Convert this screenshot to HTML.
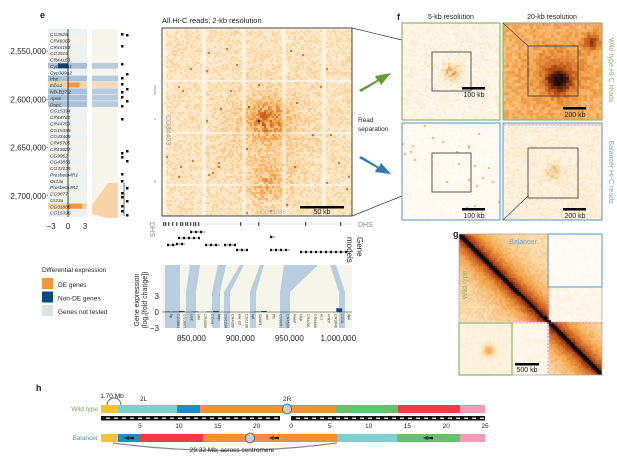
<!DOCTYPE html>
<html><head><meta charset="utf-8">
<style>
body{margin:0;background:#fff;}
#root{position:relative;width:617px;height:464px;overflow:hidden;font-family:"Liberation Sans",sans-serif;color:#222;}
canvas{position:absolute;}
</style></head>
<body>
<div id="root">
<svg id="svg" width="617" height="464" style="position:absolute;left:0;top:0"></svg>
<canvas id="hm-main" width="190" height="188" style="left:162px;top:28px"></canvas>
<canvas id="hm-f1" width="98" height="97" style="left:402px;top:23px"></canvas>
<canvas id="hm-f2" width="99" height="97" style="left:503px;top:23px"></canvas>
<canvas id="hm-f3" width="98" height="97" style="left:402px;top:123px"></canvas>
<canvas id="hm-f4" width="99" height="97" style="left:503px;top:123px"></canvas>
<canvas id="hm-g" width="143" height="141" style="left:459px;top:234px"></canvas>
<svg id="ov" width="617" height="464" style="position:absolute;left:0;top:0"></svg>
</div>
<script>
// ---- data ----
const geneNames=["CG3526","CR46069","CR44152","CG3515","CR44153","Cyp309a1","Cyp309a2","Irbp","Elba2","ND-B17.2","Aps6","Dsp1","CG15394","CR44760","CR44759","CG15395","CG43405","CR45705","CR43827","CG9962","CG43851","CG33125","Prosbeta4R1","Or23a","Prosbeta4R2","CG9877","Gr23a","CG31886","CG15398"];
const geneFC=[0,0,0,0,0,-1.8,0,0.2,2.0,0.1,0.1,0.1,0,0,0,0,0,0,0,0,0,0,0,0,0,0,0,2.5,0];
const geneClass=["n","n","n","n","n","b","n","l","o","l","l","l","n","n","n","n","n","n","n","n","n","n","n","n","n","n","n","o","n"];
const yTicks=[2550000,2600000,2650000,2700000];
const xTicksLeft=[-3,0,3];
const botGenes=["Ilp","CG3884","CG3885","Ucit","otkl","CR4659","CG43","Irbp","CG1234","CR4309","ear-22","CG1138","spl","SMAR","otkl","Ptr","CG9261","CR4563","Kaa2","Ucp","CR4301","CR4660","ec1","PrRP","CR3846","CG31","Ilp5"];
const botFC=[0.1,0.1,0.2,0,0.1,0,0.1,0.2,0,0,0,0,0,0.1,0.2,0,0,0,0,0,0,0,0,0,0,0.7,0];
const xTicksBot=[850000,900000,950000,1000000];
const rulerL=[5,10,15,20];
const rulerR=[0,5,10,15,20,25];

const NS="http://www.w3.org/2000/svg";
const svg=document.getElementById('svg');
const ov=document.getElementById('ov');
function el(tag,attrs,parent,name,inter){const e=document.createElementNS(NS,tag);for(const k in attrs)e.setAttribute(k,attrs[k]);


(parent||svg).appendChild(e);return e;}
function txt(x,y,s,size,attrs,parent,name){const e=el('text',Object.assign({x:x,y:y,'font-size':size,'font-family':'Liberation Sans, sans-serif',fill:'#222'},attrs||{}),parent,name||'label');e.textContent=s;return e;}

txt(40,18,"e",9,{'font-weight':'bold'},svg,'panel-e-label');
txt(162,23,"All Hi-C reads; 2-kb resolution",7.5,{},svg,'main-heatmap-title');
txt(397,20,"f",9,{'font-weight':'bold'},svg,'panel-f-label');
txt(451,19,"5-kb resolution",7,{'text-anchor':'middle'},svg,'f-5kb-title');
txt(552,19,"20-kb resolution",7,{'text-anchor':'middle'},svg,'f-20kb-title');
txt(453,237,"g",9,{'font-weight':'bold'},svg,'panel-g-label');
txt(36,391,"h",9,{'font-weight':'bold'},svg,'panel-h-label');

// ---- left gene panel ----
const rowTop=31,rowH=(216-31)/geneNames.length;
const gx=v=>68+v*(17/3);
const gy=i=>rowTop+i*rowH;
const clsCol={n:'#eef1ea',b:'#0d4a80',l:'#a9c1d8',o:'#f3963a'};
const clsBg={n:'#f3f1e6',b:'#a9c1d8',l:'#a9c1d8',o:'#f8d3a8'};
el('rect',{x:48,y:29,width:39,height:188,fill:'#eef2ee'},svg,'gene-panel-bg');
el('rect',{x:92,y:29,width:26,height:188,fill:'#f6f5ec'},svg,'fan-bg');
geneNames.forEach((g,i)=>{
  el('rect',{x:48,y:gy(i),width:39,height:rowH-0.6,fill:i%2?'#f3f2e8':'#ecf1f4'},svg,'gene-row');
  if(geneClass[i]!=='n'){el('rect',{x:48,y:gy(i),width:39,height:rowH-0.6,fill:clsBg[geneClass[i]]},svg,'gene-row-highlight');
    el('rect',{x:92,y:gy(i),width:26,height:rowH-0.6,fill:clsBg[geneClass[i]],opacity:0.8},svg,'gene-fan');}
  const v=geneFC[i];
  if(Math.abs(v)>0.05){el('rect',{x:Math.min(gx(0),gx(v)),y:gy(i)+0.5,width:Math.abs(gx(v)-gx(0)),height:rowH-1.5,fill:clsCol[geneClass[i]]},svg,'gene-fc-bar');}
  txt(50,gy(i)+rowH-1.3,g,4.8,{'font-style':'italic',fill:'#333'},svg,'gene-name');
});
el('polygon',{points:"92,205 108,183 118,183 118,218 108,218 92,214",fill:'#f8d3a8'},svg,'gene-fan-wedge');
el('line',{x1:68,y1:29,x2:68,y2:217,stroke:'#111','stroke-width':0.8},svg,'zero-line');
yTicks.forEach(t=>{const y=29+(t-2527000)/(2722000-2527000)*188;
  txt(46,y+3,t.toLocaleString('en-US'),8,{'text-anchor':'end'},svg,'y-tick-label');
  el('line',{x1:46.5,y1:y,x2:48,y2:y,stroke:'#333','stroke-width':0.6},svg,'y-tick');});
xTicksLeft.forEach(t=>txt(gx(t),229,t<0?'−3':String(t),8,{'text-anchor':'middle'},svg,'x-tick-label'));
const dotY=[33,34,45,63,73,77,83,88,91,96,100,105,118,150,152,156,160,173,180,187,192,196,200,205,210,214];
dotY.forEach((y,i)=>el('rect',{x:121+(i%3===1?5:0),y:y,width:2.5,height:2.5,fill:'#111'},svg,'regulatory-dot'));
el('line',{x1:124,y1:183,x2:124,y2:216,stroke:'#111','stroke-width':0.6},svg,'dot-line');

// ---- main heatmap frame ----
el('rect',{x:162,y:28,width:190,height:188,fill:'none',stroke:'#444','stroke-width':1},ov,'main-heatmap-frame');
el('rect',{x:300,y:206,width:44,height:2.5,fill:'#000'},ov,'scale-bar-50kb');
txt(322,214,"50 kb",7,{'text-anchor':'middle'},ov,'scale-label-50kb');
txt(166,115,"CG34403",7,{fill:'#aaa',transform:'rotate(90 166 115)','font-style':'italic'},ov,'side-gene-label');
txt(260,214,"CG31886",6,{fill:'#bbb','font-style':'italic'},ov,'bottom-gene-label');
[[85,95],[118,120],[180,183]].forEach(s=>el('line',{x1:155,y1:s[0],x2:155,y2:s[1],stroke:'#888','stroke-width':0.8},svg,'dhs-side'));
el('line',{x1:352,y1:28,x2:402,y2:40,stroke:'#333','stroke-width':0.7},ov,'zoom-line-top');
el('line',{x1:352,y1:216,x2:402,y2:196,stroke:'#333','stroke-width':0.7},ov,'zoom-line-bottom');
el('path',{d:"M359,90 L377,80 L375,76 L391,73 L381,85 L379,81 L361,92 Z",fill:'#5e9b3a'},svg,'arrow-wildtype');
el('path',{d:"M359,158 L377,168 L375,172 L391,174 L381,163 L379,167 L361,156 Z",fill:'#2f7bb5'},svg,'arrow-balancer');
txt(358,122,"Read",6.5,{},svg,'read-separation-label');
txt(358,131,"separation",6.5,{},svg,'read-separation-label');

// ---- DHS / gene models / bottom expression ----
const bx=v=>165+(v-823000)/(1012000-823000)*185;
el('line',{x1:162,y1:224,x2:352,y2:224,stroke:'#ccc','stroke-width':0.5},svg,'dhs-track');
[163,165,168,172,176,180,182,185,187,190,193,195,198,240,258,305,340].forEach(x=>el('rect',{x:x,y:222,width:1.3,height:4,fill:'#555'},svg,'dhs-peak'));
txt(358,227,"DHS",7,{fill:'#888'},svg,'dhs-label');
txt(150,222,"DHS",7,{fill:'#888',transform:'rotate(90 150 222)'},svg,'dhs-label-side');
[[167,245,176],[176,244,185],[178,238,200],[190,232,205],[205,245,220],[224,245,235],[236,250,248],[270,250,290],[270,237,275],[300,252,340],[340,252,350]].forEach(g=>{
 el('line',{x1:g[0],y1:g[1],x2:g[2],y2:g[1],stroke:'#111','stroke-width':0.6},svg,'gene-model');
 for(let x=g[0];x<g[2];x+=5)el('rect',{x:x,y:g[1]-1.2,width:2,height:2.4,fill:'#111'},svg,'exon');});
txt(357,237,"Gene",8,{transform:'rotate(90 357 237)'},svg,'gene-models-label');
txt(347,237,"models",8,{transform:'rotate(90 347 237)'},svg,'gene-models-label');
el('rect',{x:162,y:265,width:190,height:63,fill:'#f6f5ea'},svg,'expr-bg');
[[165,180,165,180],[190,200,186,196],[218,226,212,220],[240,244,224,230],[260,264,250,256],[284,318,280,290],[330,336,339,345]].forEach(f=>{
 el('polygon',{points:`${f[0]},265 ${f[1]},265 ${f[3]},292 ${f[2]},292`,fill:'#b8cde0'},svg,'expr-fan');
 el('rect',{x:f[2],y:292,width:f[3]-f[2],height:36,fill:'#b8cde0'},svg,'expr-column');});
const by=v=>312-v*(16/3);
el('line',{x1:162,y1:by(0),x2:352,y2:by(0),stroke:'#333','stroke-width':0.6},svg,'expr-zero-line');
const bw=185/botGenes.length;
botGenes.forEach((g,i)=>{const x=165+i*bw;
 if(botFC[i]>0)el('rect',{x:x,y:by(botFC[i]),width:bw-1,height:by(0)-by(botFC[i]),fill:'#0d4a80'},svg,'expr-bar');
 txt(x+bw/2+1.5,by(0)+2,g,3.8,{transform:`rotate(90 ${x+bw/2+1.5} ${by(0)+2})`,fill:'#333'},svg,'bottom-gene-name');});
[3,0,-3].forEach(t=>txt(159,by(t)+3,t<0?'−3':String(t),8,{'text-anchor':'end'},svg,'expr-y-tick'));
txt(139,300,"Gene expression",7,{'text-anchor':'middle',transform:'rotate(-90 139 300)'},svg,'expr-y-title');
txt(147,300,"(log\u2082[fold change])",7,{'text-anchor':'middle',transform:'rotate(-90 147 300)'},svg,'expr-y-title');
xTicksBot.forEach(t=>txt(bx(t),341,t.toLocaleString('en-US'),8,{'text-anchor':'middle'},svg,'x-tick-label-bottom'));

txt(42,272,"Differential expression",6.5,{},svg,'legend-title');
[["#f3963a","DE genes"],["#0d4a80","Non-DE genes"],["#dde4de","Genes not tested"]].forEach((l,i)=>{
 el('rect',{x:42,y:278+i*13.5,width:11,height:11,fill:l[0]},svg,'legend-swatch');
 txt(58,287+i*13.5,l[1],6.5,{},svg,'legend-entry');});

// ---- f frames ----
const G='#8cb56c',B='#6ea6cf';
[[402,23,98,97,G],[503,23,99,97,G],[402,123,98,97,B],[503,123,99,97,B]].forEach(r=>el('rect',{x:r[0],y:r[1],width:r[2],height:r[3],fill:'none',stroke:r[4],'stroke-width':1.2},ov,'f-panel-frame'));
el('line',{x1:504,y1:25,x2:601,y2:25,stroke:'#e06fd0','stroke-width':0.8,'stroke-dasharray':'2,1.5'},ov,'pink-dash');
el('line',{x1:504,y1:125,x2:601,y2:125,stroke:'#e06fd0','stroke-width':0.8,'stroke-dasharray':'2,1.5'},ov,'pink-dash');
[[432,52,39,39],[528,46,50,50],[432,153,39,39],[528,148,50,50]].forEach(r=>el('rect',{x:r[0],y:r[1],width:r[2],height:r[3],fill:'none',stroke:'#333','stroke-width':0.8},ov,'zoom-box'));
el('line',{x1:503,y1:23,x2:528,y2:46,stroke:'#333','stroke-width':0.6},ov,'zoom-line');
el('line',{x1:503,y1:220,x2:528,y2:196,stroke:'#333','stroke-width':0.6},ov,'zoom-line');
[[475,87,"100 kb"],[576,107,"200 kb"],[475,208,"100 kb"],[576,208,"200 kb"]].forEach(s=>{
 el('rect',{x:s[0]-13,y:s[1],width:23,height:2.5,fill:'#000'},ov,'scale-bar');
 txt(s[0]-1,s[1]+10,s[2],7,{'text-anchor':'middle'},ov,'scale-label');});
txt(609,70,"Wild-type Hi-C reads",7,{'text-anchor':'middle',fill:G,transform:'rotate(90 609 70)'},svg,'wt-side-label');
txt(609,172,"Balancer Hi-C reads",7,{'text-anchor':'middle',fill:B,transform:'rotate(90 609 172)'},svg,'bal-side-label');

// ---- g frames ----
el('rect',{x:459,y:234,width:143,height:141,fill:'none',stroke:'#aaa','stroke-width':0.8},ov,'g-frame');
el('rect',{x:548,y:234,width:54,height:53,fill:'none',stroke:B,'stroke-width':1.2},ov,'g-balancer-box');
el('rect',{x:459,y:323,width:53,height:52,fill:'none',stroke:G,'stroke-width':1.2},ov,'g-wildtype-box');
el('line',{x1:548,y1:287,x2:548,y2:375,stroke:'#e06fd0','stroke-width':0.8,'stroke-dasharray':'2,1.5'},ov,'g-pink-v');
el('line',{x1:512,y1:323,x2:602,y2:323,stroke:'#e06fd0','stroke-width':0.8,'stroke-dasharray':'2,1.5'},ov,'g-pink-h');
txt(523,244,"Balancer",7,{'text-anchor':'middle',fill:B},ov,'g-balancer-label');
txt(467,285,"Wild type",7,{'text-anchor':'middle',fill:G,transform:'rotate(-90 467 285)'},ov,'g-wildtype-label');
el('rect',{x:515,y:363,width:24,height:2.5,fill:'#000'},ov,'g-scale-bar');
txt(527,372,"500 kb",7,{'text-anchor':'middle'},ov,'g-scale-label');

// ---- h chromosomes ----
const wt=[[101,118,'#f7c335'],[118,177,'#7ecfd0'],[177,200,'#1d8ccb'],[200,336,'#f0913a'],[336,398,'#67c06a'],[398,460,'#ee3b45'],[460,485,'#f59bb5']];
const bal=[[101,118,'#f7c335'],[118,140,'#1d8ccb'],[140,203,'#ee3b45'],[203,337,'#f0913a'],[337,397,'#7ecfd0'],[397,460,'#67c06a'],[460,485,'#f59bb5']];
wt.forEach(s=>el('rect',{x:s[0],y:405,width:s[1]-s[0],height:8,fill:s[2]},svg,'wt-segment'));
bal.forEach(s=>el('rect',{x:s[0],y:434,width:s[1]-s[0],height:8,fill:s[2]},svg,'bal-segment'));
el('ellipse',{cx:287,cy:409,rx:4.5,ry:5,fill:'#ccc',stroke:'#555','stroke-width':0.8},svg,'wt-centromere');
el('ellipse',{cx:250,cy:438,rx:4.5,ry:5,fill:'#ccc',stroke:'#555','stroke-width':0.8},svg,'bal-centromere');
[130,275,429].forEach(x=>el('path',{d:`M${x-5},438 L${x+4},436.8 L${x+4},439.2 Z M${x-1},436 L${x-6},438 L${x-1},440 Z`,fill:'#111'},svg,'inversion-arrow'));
[[101,280],[291,485]].forEach(r=>{el('rect',{x:r[0],y:416,width:r[1]-r[0],height:4.5,fill:'#111'},svg,'ruler');
 for(let x=r[0]+5;x<r[1]-3;x+=8)el('rect',{x:x,y:417.6,width:4,height:1.2,fill:'#fff'},svg,'ruler-dash');});
const rl=v=>101+(v)*(280-101)/23, rr=v=>291+v*(485-291)/25;
rulerL.forEach(v=>txt(rl(v),428,String(v),6.5,{'text-anchor':'middle'},svg,'ruler-label-2L'));
rulerR.forEach(v=>txt(rr(v),428,String(v),6.5,{'text-anchor':'middle'},svg,'ruler-label-2R'));
txt(98,411,"Wild type",6.5,{'text-anchor':'end',fill:'#7aa85a'},svg,'wt-label');
txt(98,440,"Balancer",6.5,{'text-anchor':'end',fill:'#4a90c8'},svg,'bal-label');
txt(140,401,"2L",6.5,{},svg,'arm-2L');
txt(283,401,"2R",6.5,{},svg,'arm-2R');
txt(112,398,"1.70 Mb",6.5,{'text-anchor':'middle'},svg,'inv-1-label');
el('path',{d:"M107,405 A6,6 0 0 1 121,405",fill:'none',stroke:'#666','stroke-width':1},svg,'inv-1-arc');
el('path',{d:"M113,443 Q225,458 337,443",fill:'none',stroke:'#888','stroke-width':1.2},svg,'inv-2-arc');
txt(232,452,"29.32 Mb; across centromere",6.5,{'text-anchor':'middle'},svg,'inv-2-label');

// ---- heatmap textures (decorative) ----
function h(i,j,s){let x=Math.sin(i*12.9898+j*78.233+s*37.719)*43758.5453;return x-Math.floor(x);}
function ramp(v){v=Math.max(0,Math.min(1,v));
 const stops=[[255,255,255],[252,226,185],[243,165,75],[195,85,25],[80,25,10],[15,10,10]];
 const p=v*(stops.length-1),k=Math.min(stops.length-2,Math.floor(p)),f=p-k;
 return stops[k].map((c,q)=>Math.round(c+(stops[k+1][q]-c)*f));}
function paint(id,cell,fn,seed){const c=document.getElementById(id),ctx=c.getContext('2d');
 for(let y=0;y<c.height;y+=cell)for(let x=0;x<c.width;x+=cell){const v=fn(x/c.width,y/c.height,h(x,y,seed),x,y);
  const col=ramp(v);ctx.fillStyle=`rgb(${col[0]},${col[1]},${col[2]})`;ctx.fillRect(x,y,cell,cell);}}
const g2=(u,v,cu,cv,s)=>Math.exp(-((u-cu)**2+(v-cv)**2)/(2*s*s));
paint('hm-main',2,(u,v,r,x,y)=>{let b=0.11+0.15*r+(r>0.995?0.3:0);
 if(x%40<4||y%52<2)b*=0.4;
 b+=0.22*g2(u,v,0.55,0.48,0.07)*(0.5+r)+0.14*g2(u,v,0.55,0.82,0.07)*(0.5+r)+0.08*g2(u,v,0.55,0.55,0.18);return b;},1);
paint('hm-f1',2,(u,v,r)=>0.05+0.1*r*r+0.28*g2(u,v,0.5,0.5,0.06)*(0.5+r),2);
paint('hm-f2',3,(u,v,r)=>0.3+0.12*r+0.5*g2(u,v,0.55,0.58,0.08)+0.3*g2(u,v,0.88,0.18,0.06)+0.15*g2(u,v,0.55,0.5,0.2),3);
paint('hm-f3',2,(u,v,r)=>0.02+0.04*r+(r>0.99?0.3:0),4);
paint('hm-f4',2,(u,v,r)=>0.08+0.1*r*r+0.2*g2(u,v,0.5,0.5,0.05)*(0.5+r),5);
paint('hm-g',2,(u,v,r)=>{const d=Math.abs(u-v);const blk=(u<0.62&&v<0.62)||(u>0.62&&v>0.62);
 let b=blk?(0.18+0.6*Math.exp(-d*8)):0.03;b+=0.07*r;if(d<0.02)b=1;
 if(u<0.37&&v>0.63)b=0.07+0.05*r+0.3*g2(u,v,0.2,0.82,0.03);
 if(u>0.63&&v<0.37)b=0.02+0.03*r;return b;},6);
</script>
</body></html>
